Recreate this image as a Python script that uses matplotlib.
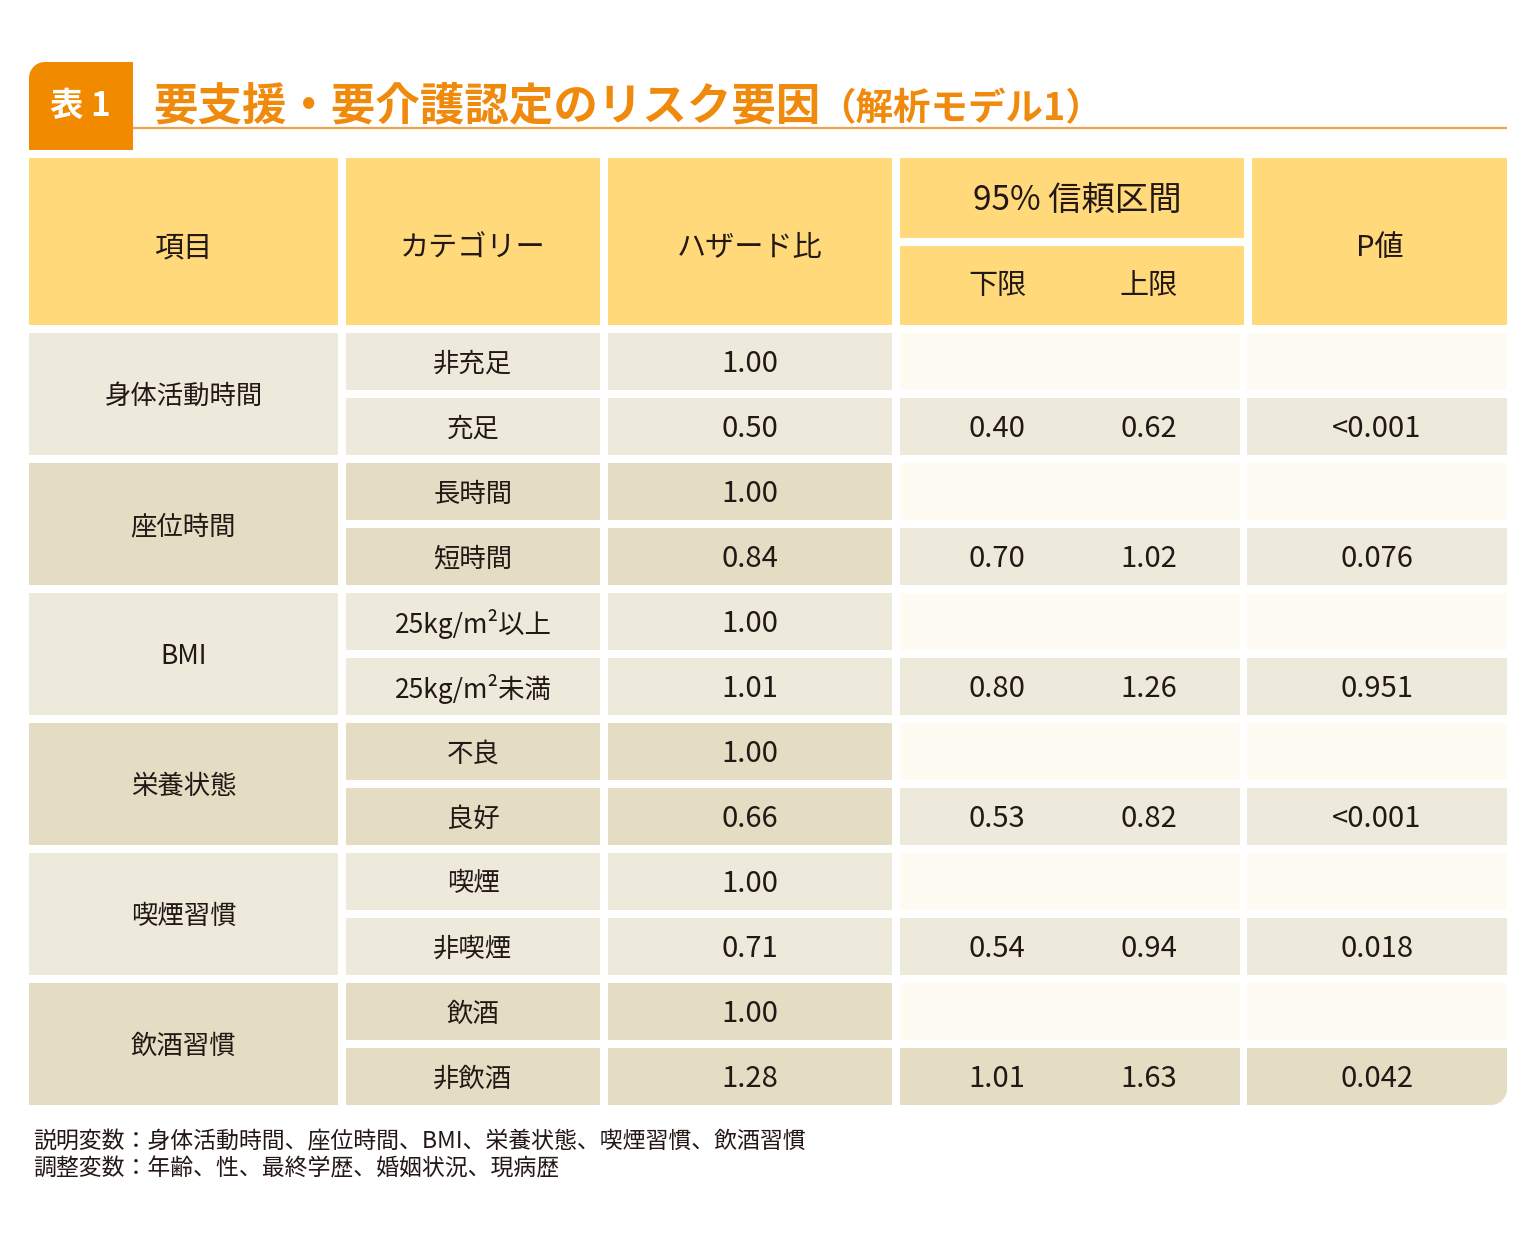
import numpy as np
import matplotlib
matplotlib.use("Agg")
import matplotlib.pyplot as plt
from matplotlib.patches import Polygon

plt.rcParams['font.family'] = ['Noto Sans CJK JP', 'DejaVu Sans']

# ---------------- data ----------------
title_tag = "表 1"
title_main = "要支援・要介護認定のリスク要因"
title_sub = "（解析モデル1）"
header_cols = ["項目", "カテゴリー", "ハザード比", "95% 信頼区間", "P値"]
header_ci = ["下限", "上限"]
items = ["身体活動時間", "座位時間", "BMI", "栄養状態", "喫煙習慣", "飲酒習慣"]
categories = [["非充足", "充足"], ["長時間", "短時間"], ["25kg/m²以上", "25kg/m²未満"],
              ["不良", "良好"], ["喫煙", "非喫煙"], ["飲酒", "非飲酒"]]
hazard = [["1.00", "0.50"], ["1.00", "0.84"], ["1.00", "1.01"],
          ["1.00", "0.66"], ["1.00", "0.71"], ["1.00", "1.28"]]
ci_lower = ["0.40", "0.70", "0.80", "0.53", "0.54", "1.01"]
ci_upper = ["0.62", "1.02", "1.26", "0.82", "0.94", "1.63"]
p_values = ["<0.001", "0.076", "0.951", "<0.001", "0.018", "0.042"]
notes = ["説明変数：身体活動時間、座位時間、BMI、栄養状態、喫煙習慣、飲酒習慣",
         "調整変数：年齢、性、最終学歴、婚姻状況、現病歴"]

# ---------------- style ----------------
W, H = 1536, 1241
ORANGE = "#F28A00"
TITLE_C = "#F08A0C"
LINE_C = "#F0A04A"
HEAD_C = "#FFD97A"
LIGHT = "#EEEADB"
DARK = "#E4DCC3"
PALE = "#FEFCF2"
TXT = "#231815"
DY = 2.5  # vertical text nudge

fig = plt.figure(figsize=(W / 100, H / 100), dpi=100)
ax = fig.add_axes([0, 0, 1, 1])
ax.set_xlim(0, W)
ax.set_ylim(H, 0)
ax.axis("off")


def rbox(x0, y0, x1, y1, color, tl=0, tr=0, br=0, bl=0):
    pts = []
    def arc(cx, cy, r, a0, a1):
        for a in np.linspace(a0, a1, 12):
            pts.append((cx + r * np.cos(a), cy + r * np.sin(a)))
    if tl:
        arc(x0 + tl, y0 + tl, tl, np.pi, 1.5 * np.pi)
    else:
        pts.append((x0, y0))
    if tr:
        arc(x1 - tr, y0 + tr, tr, 1.5 * np.pi, 2 * np.pi)
    else:
        pts.append((x1, y0))
    if br:
        arc(x1 - br, y1 - br, br, 0, 0.5 * np.pi)
    else:
        pts.append((x1, y1))
    if bl:
        arc(x0 + bl, y1 - bl, bl, 0.5 * np.pi, np.pi)
    else:
        pts.append((x0, y1))
    ax.add_patch(Polygon(pts, closed=True, facecolor=color, edgecolor="none"))


def txt(x, y, s, size, **kw):
    kw.setdefault("color", TXT)
    kw.setdefault("ha", "center")
    kw.setdefault("va", "center")
    return ax.text(x, y + DY, s, fontsize=size, **kw)

# ---------------- title ----------------
rbox(29, 62, 133, 150, ORANGE, tl=16)
txt(80, 104, title_tag, 24, color="white", fontweight="bold")
ax.plot([133, 1507], [128, 128], color=LINE_C, lw=1.6, solid_capstyle="butt")
t1 = txt(153, 104, title_main, 32, color=TITLE_C, fontweight="bold", ha="left")
fig.canvas.draw()
bb = t1.get_window_extent(renderer=fig.canvas.get_renderer())
x_end = bb.x1
txt(x_end - 2, 106, title_sub, 27, color=TITLE_C, fontweight="bold", ha="left")

# ---------------- header ----------------
cols = [(29, 338), (346, 600), (608, 892)]
ci_x = (900, 1244)
p_x = (1252, 1507)
hy0, hy1 = 158, 325
for (a, b), lab in zip(cols, header_cols[:3]):
    rbox(a, hy0, b, hy1, HEAD_C)
    txt((a + b) / 2, 246, lab, 21)
rbox(ci_x[0], hy0, ci_x[1], 238, HEAD_C)
txt(1077, 199, header_cols[3], 24)
rbox(ci_x[0], 246, ci_x[1], hy1, HEAD_C)
txt(997, 283, header_ci[0], 21)
txt(1149, 283, header_ci[1], 21)
rbox(p_x[0], hy0, p_x[1], hy1, HEAD_C)
txt((p_x[0] + p_x[1]) / 2, 246, header_cols[4], 21)

# ---------------- body ----------------
top = 333
pitch = 65
ch = 57
ci_b = (900, 1240)
p_b = (1247, 1507)
n = len(items)
for g in range(n):
    gc = LIGHT if g % 2 == 0 else DARK
    y0 = top + g * 2 * pitch
    rbox(cols[0][0], y0, cols[0][1], y0 + pitch + ch, gc)
    txt(sum(cols[0]) / 2, y0 + (pitch + ch) / 2, items[g], 19)
    for r in range(2):
        ry0 = y0 + r * pitch
        ry1 = ry0 + ch
        cy = (ry0 + ry1) / 2
        rbox(cols[1][0], ry0, cols[1][1], ry1, gc)
        txt(sum(cols[1]) / 2, cy, categories[g][r], 19)
        rbox(cols[2][0], ry0, cols[2][1], ry1, gc)
        txt(sum(cols[2]) / 2, cy, hazard[g][r], 21)
        last = (g == n - 1 and r == 1)
        if r == 0:
            rc = PALE
        else:
            rc = DARK if last else LIGHT
        rbox(ci_b[0], ry0, ci_b[1], ry1, rc)
        rbox(p_b[0], ry0, p_b[1], ry1, rc, br=16 if last else 0)
        if r == 1:
            txt(997, cy, ci_lower[g], 21)
            txt(1149, cy, ci_upper[g], 21)
            txt(1377, cy, p_values[g], 21)

# ---------------- notes ----------------
txt(33, 1139, notes[0], 16.5, ha="left")
txt(33, 1166, notes[1], 16.5, ha="left")

fig.savefig("out.png", dpi=100, facecolor="white")
